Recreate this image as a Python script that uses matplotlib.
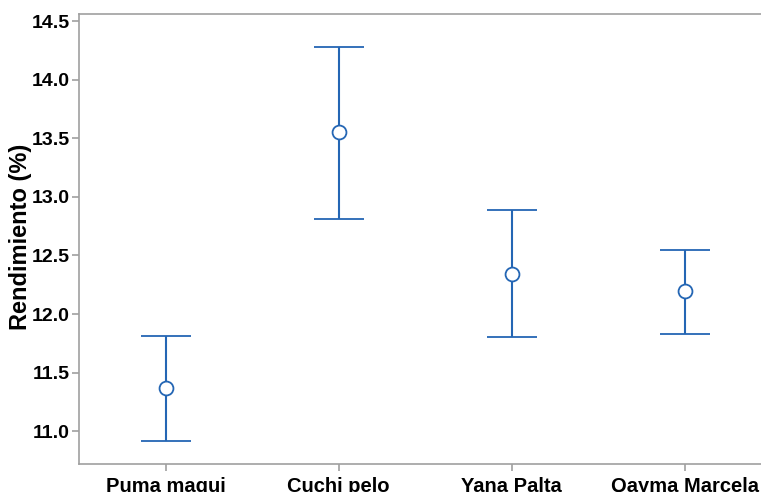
import matplotlib.pyplot as plt

plt.rcParams['font.family'] = ['Liberation Sans', 'DejaVu Sans']

variedades = ['Puma maqui', 'Cuchi pelo', 'Yana Palta', 'Qayma Marcela']
media = [11.37, 13.55, 12.34, 12.20]
limite_sup = [11.81, 14.28, 12.89, 12.55]
limite_inf = [10.92, 12.81, 11.80, 11.83]

azul = '#2466b4'
gris = '#a0a0a0'

fig = plt.figure(figsize=(7.61, 4.92), dpi=100)
ax = fig.add_axes([0.1038, 0.0569, 0.91, 0.9146])

x = list(range(len(variedades)))
err_lo = [m - l for m, l in zip(media, limite_inf)]
err_hi = [u - m for m, u in zip(media, limite_sup)]
ax.errorbar(x, media, yerr=[err_lo, err_hi], fmt='o', color=azul,
            mfc='white', mec=azul, ms=10, mew=1.3, elinewidth=1.5,
            capsize=18, capthick=1.5)

ax.set_xlim(-0.50, 3.50)
ax.set_ylim(10.72, 14.56)
ax.set_xticks(x)
ax.set_xticklabels(variedades, fontsize=14.5, fontweight='bold')
ax.set_yticks([11.0, 11.5, 12.0, 12.5, 13.0, 13.5, 14.0, 14.5])
ax.set_yticklabels(['11.0', '11.5', '12.0', '12.5', '13.0', '13.5', '14.0', '14.5'],
                   fontsize=14, fontweight='bold')
ax.set_ylabel('Rendimiento (%)', fontsize=17, fontweight='bold')
ax.yaxis.set_label_coords(-0.068, 0.505)

for s in ['left', 'bottom', 'top']:
    ax.spines[s].set_color(gris)
    ax.spines[s].set_linewidth(1.2)
ax.spines['right'].set_visible(False)
ax.tick_params(axis='both', colors=gris, labelcolor='black', length=5, width=1.2)
ax.tick_params(axis='y', pad=1.5)
ax.tick_params(axis='x', pad=4)

fig.savefig('out.png', dpi=100)
